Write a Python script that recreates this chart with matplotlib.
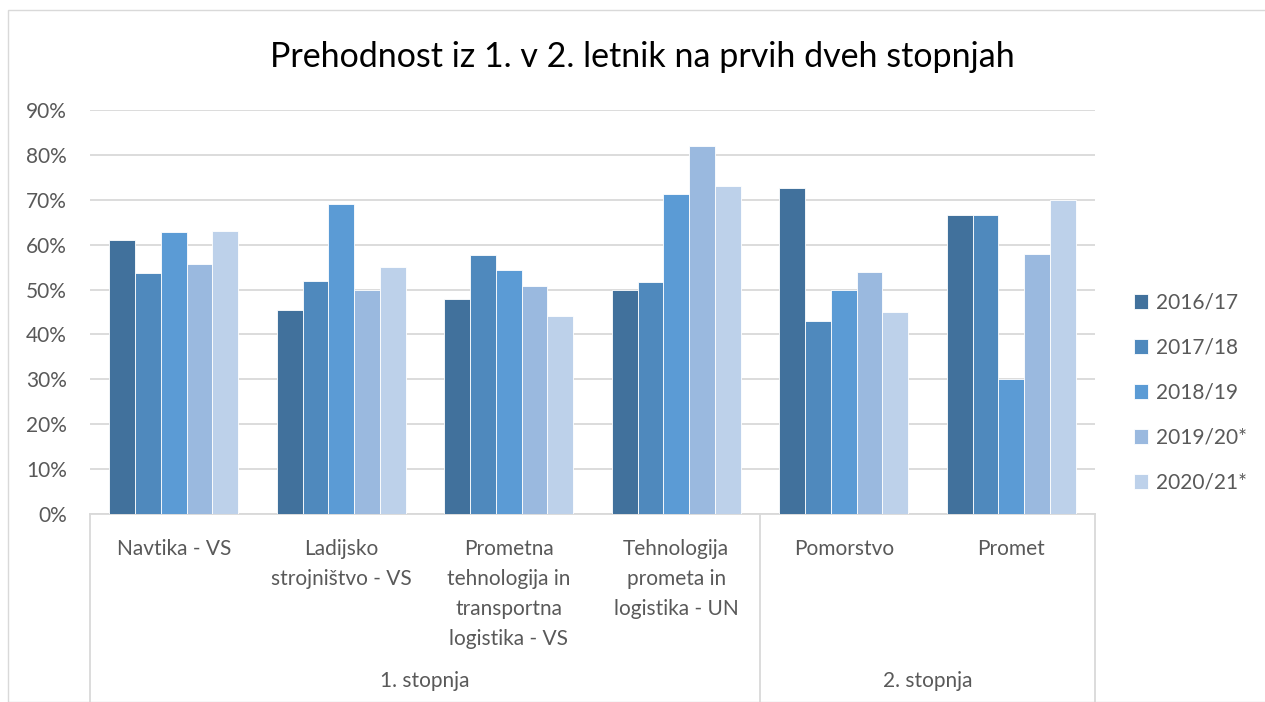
import matplotlib
matplotlib.use("Agg")
import matplotlib.pyplot as plt
from matplotlib.patches import Rectangle
from matplotlib.lines import Line2D
from matplotlib.transforms import blended_transform_factory
import numpy as np

title = "Prehodnost iz 1. v 2. letnik na prvih dveh stopnjah"
categories = ["Navtika - VS", "Ladijsko\nstrojništvo - VS",
              "Prometna\ntehnologija in\ntransportna\nlogistika - VS",
              "Tehnologija\nprometa in\nlogistika - UN", "Pomorstvo", "Promet"]
groups = ["1. stopnja", "2. stopnja"]
group_sizes = [4, 2]
series = ["2016/17", "2017/18", "2018/19", "2019/20*", "2020/21*"]
v2016 = [61.1, 45.5, 48.0, 50.0, 72.7, 66.7]
v2017 = [53.6, 52.0, 57.6, 51.6, 42.9, 66.7]
v2018 = [62.9, 69.1, 54.3, 71.3, 50.0, 30.0]
v2019 = [55.8, 50.0, 50.9, 81.9, 54.0, 58.0]
v2020 = [63.0, 55.0, 44.0, 73.0, 45.0, 70.0]
values = [v2016, v2017, v2018, v2019, v2020]
colors = ["#41719C", "#4F89BD", "#5B9BD5", "#9AB9DF", "#BDD1EA"]
yticks = [0, 10, 20, 30, 40, 50, 60, 70, 80, 90]

plt.rcParams['font.family'] = ['Lato', 'DejaVu Sans']
W, H = 1265, 702
fig = plt.figure(figsize=(W / 100, H / 100), dpi=100)
fig.patches.append(Rectangle((8 / W, 0), 1, (H - 10) / H, transform=fig.transFigure,
                             fill=False, edgecolor="#D9D9D9", lw=1.0))

x0, x1, ytop, ybot = 90, 1095, 110, 514
ax = fig.add_axes([x0 / W, (H - ybot) / H, (x1 - x0) / W, (ybot - ytop) / H])
n = len(categories)
x = np.arange(n)
bw = 0.154
for i, (s, vals, c) in enumerate(zip(series, values, colors)):
    ax.bar(x + (i - 2) * bw, vals, width=bw, color=c, edgecolor="#FFFFFF",
           linewidth=0.6, label=s, zorder=3)
ax.set_xlim(-0.5, n - 0.5)
ax.set_ylim(0, 90)
ax.set_yticks(yticks)
ax.set_yticklabels([f"{t}%" for t in yticks])
ax.yaxis.grid(True, color="#D9D9D9", lw=1.3, zorder=0)
for sp in ["top", "right", "left"]:
    ax.spines[sp].set_visible(False)
ax.spines["bottom"].set_color("#D9D9D9")
ax.spines["bottom"].set_linewidth(1.3)
fs = 15
ax.tick_params(axis="y", length=0, pad=16.5, labelsize=fs, labelcolor="#595959")
ax.set_xticks(x)
ax.set_xticklabels(categories, fontsize=fs, color="#595959", linespacing=1.62,
                   va="top")
ax.tick_params(axis="x", length=0, pad=18)

tr = blended_transform_factory(ax.transData, fig.transFigure)
bounds = [-0.5]
for gsz in group_sizes:
    bounds.append(bounds[-1] + gsz)
for b in bounds:
    fig.add_artist(Line2D([b, b], [0, (H - ybot) / H], transform=tr,
                          color="#D9D9D9", lw=1.3))
for gi, g in enumerate(groups):
    cx = (bounds[gi] + bounds[gi + 1]) / 2
    fig.text(cx, (H - 681) / H, g, transform=tr, ha="center", va="center",
             fontsize=fs, color="#595959")

fig.text(642 / W, (H - 57) / H, title, ha="center", va="center", fontsize=24.5,
         color="#000000")

leg = ax.legend(loc="center left", bbox_to_anchor=(1.02, 0.30), frameon=False,
                fontsize=fs, labelspacing=1.2, handlelength=0.7,
                handleheight=0.7, handletextpad=0.35)
for t in leg.get_texts():
    t.set_color("#595959")

fig.savefig("out.png", dpi=100)
